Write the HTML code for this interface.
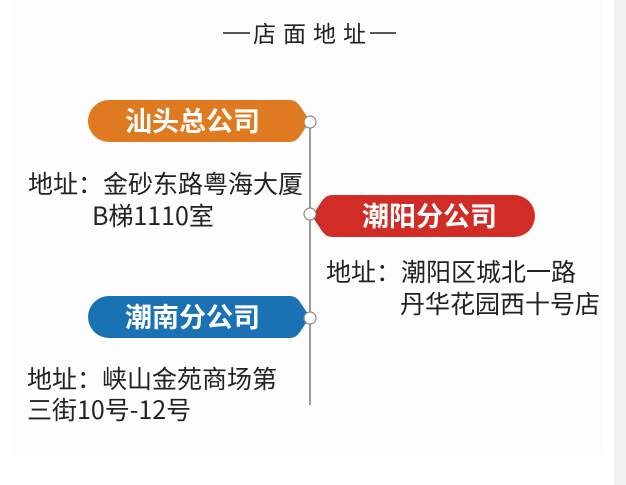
<!DOCTYPE html>
<html><head><meta charset="utf-8"><style>
body{margin:0;width:626px;height:485px;background:#fff;overflow:hidden;position:relative;font-family:"Liberation Sans","Noto Sans CJK SC",sans-serif}
.bg{position:absolute;left:12px;top:0;width:590px;height:455px;background:#fdfdfe}
.strip{position:absolute;left:614px;top:0;width:12px;height:485px;background:#f2f2f2}
.t{position:absolute;font-size:25px;color:#222;white-space:nowrap;line-height:1;font-family:"Noto Sans CJK SC",sans-serif}
.w{position:absolute;font-size:27px;color:#fff;font-weight:bold;white-space:nowrap;line-height:1;font-family:"Noto Sans CJK SC",sans-serif}
svg{position:absolute;left:0;top:0}
</style></head><body>
<div class="bg"></div><div class="strip"></div>
<svg width="626" height="485">
<line x1="223" y1="33" x2="250" y2="33" stroke="#222" stroke-width="1.5"/>
<line x1="370" y1="33" x2="396" y2="33" stroke="#222" stroke-width="1.5"/>
<line x1="310" y1="122" x2="310" y2="405" stroke="#9a9a9a" stroke-width="2"/>
<path d="M109,100 H290 Q296,100 300,106 L310,121 L300,136 Q296,142 290,142 H109 A21,21 0 0 1 109,100Z" fill="#e07a21"/>
<path d="M332,195 H514 A21,21 0 0 1 514,237 H332 Q326,237 322,231 L312,216 L322,201 Q326,195 332,195 Z" fill="#d12c25"/>
<path d="M109,296 H290 Q296,296 300,302 L310,317 L300,332 Q296,338 290,338 H109 A21,21 0 0 1 109,296Z" fill="#1a72b5"/>
<circle cx="310" cy="122" r="6" fill="#fff" stroke="#888" stroke-width="1.2"/>
<circle cx="310" cy="214" r="6" fill="#fff" stroke="#888" stroke-width="1.2"/>
<circle cx="310" cy="318" r="6" fill="#fff" stroke="#888" stroke-width="1.2"/>
</svg>
<div class="t" style="left:253px;top:21px;font-size:23px;letter-spacing:7px">店面地址</div>
<div class="w" style="left:125px;top:106px">汕头总公司</div>
<div class="w" style="left:362px;top:201px">潮阳分公司</div>
<div class="w" style="left:125px;top:302px">潮南分公司</div>
<div class="t" style="left:28px;top:171px">地址：金砂东路粤海大厦</div>
<div class="t" style="left:92px;top:203px">B梯1110室</div>
<div class="t" style="left:326px;top:259px">地址：潮阳区城北一路</div>
<div class="t" style="left:400px;top:291px">丹华花园西十号店</div>
<div class="t" style="left:27px;top:366px">地址：峡山金苑商场第</div>
<div class="t" style="left:27px;top:397px">三街10号-12号</div>
</body></html>
